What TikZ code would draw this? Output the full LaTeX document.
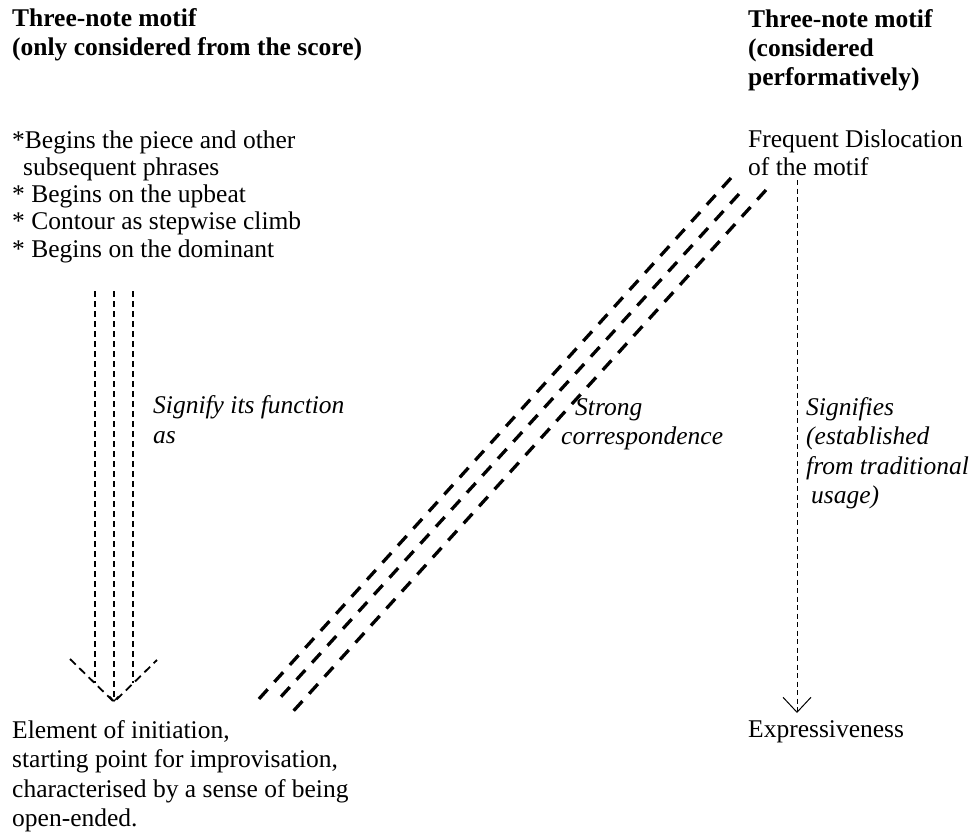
\documentclass[tikz,border=0pt]{standalone}
\usepackage{fontspec}
\setmainfont{Liberation Serif}
\usetikzlibrary{arrows.meta}
\begin{document}
\begin{tikzpicture}
      [x=1pt,y=-1pt,
      every node/.style={inner sep=0pt,anchor=base west,align=left,
        font=\fontsize{25.5}{29.5}\selectfont},
      heading/.style={font=\fontsize{25.5}{29}\selectfont\bfseries},
      tight/.style={font=\fontsize{25.5}{27.3}\selectfont},
      gloss/.style={font=\fontsize{25.5}{29.5}\selectfont\itshape},
      fine dash/.style={line width=1.2pt,dash pattern=on 6pt off 4pt},
      head dash/.style={line width=1.8pt,dash pattern=on 8pt off 5pt},
      heavy dash/.style={line width=3.3pt,dash pattern=on 13pt off 10pt}]
      \useasboundingbox (0,0) rectangle (980,832);
      % left column (nodes sit on the baseline of their last line)
      \node[heading] (scoreHead) at (12,56) {Three-note motif\\(only considered from the score)};
      \node[tight] (scoreList) at (12,257.2) {*Begins the piece and other\\
        \hspace*{11pt}subsequent phrases\\
        * Begins on the upbeat\\
        * Contour as stepwise climb\\
        * Begins on the dominant};
      \node (initiation) at (12,826.5) {Element of initiation,\\
        starting point for improvisation,\\
        characterised by a sense of being\\
        open-ended.};
      \node[gloss] (signify) at (153,443) {Signify its function\\as};
      % right column
      \node[heading,font=\fontsize{25.5}{28.7}\selectfont\bfseries] (perfHead) at (748,85.4)
        {Three-note motif\\(considered\\performatively)};
      \node[tight] (dislocation) at (748,175.3) {Frequent Dislocation\\of the motif};
      \node (expressive) at (748,737) {Expressiveness};
      \node[gloss] (signifies) at (806,503.5) {Signifies\\(established\\from traditional\\\hspace*{5pt}usage)};
      \node[gloss] (strong) at (561,444.5) {\hspace*{14pt}Strong\\correspondence};
      % triple arrow
      \coordinate (fnTop) at (114,291);
      \coordinate (fnTip) at (114,702);
      \coordinate (fnLeft) at (70,659);
      \coordinate (fnRight) at (157,660);
      \draw[fine dash] ([xshift=-19pt]fnTop) -- ([xshift=-19pt]fnTop |- 0,683);
      \draw[fine dash] ([xshift=19pt]fnTop) -- ([xshift=19pt]fnTop |- 0,683);
      \draw[fine dash,-{Straight Barb[length=5pt,width=9pt]}] (fnTop) -- (fnTip);
      \draw[head dash] (fnLeft) -- (fnTip) -- (fnRight);
      % correspondence
      \foreach \xa/\ya/\xb/\yb in {731/178/258/700,739/194/278/700,766/190/288/717}
        \draw[heavy dash] (\xa,\ya) -- (\xb,\yb);
      % signifies arrow
      \coordinate (sigTop) at (797,180);
      \coordinate (sigTip) at (797,713);
      \draw[fine dash,line width=1pt,dash pattern=on 5pt off 3.5pt,
        -{Straight Barb[length=15pt,width=28pt]}] (sigTop) -- (sigTip);
\end{tikzpicture}
\end{document}
